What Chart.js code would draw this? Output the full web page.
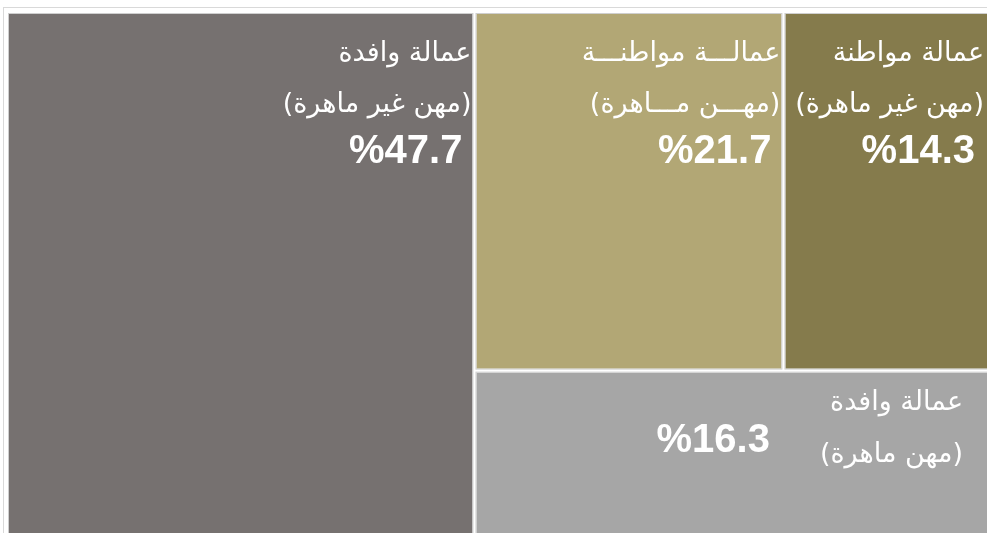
<!DOCTYPE html>
<html lang="ar">
<head>
<meta charset="utf-8">
<script src="https://cdn.jsdelivr.net/npm/chart.js@4.4.1/dist/chart.umd.min.js"></script>
<style>
  html, body { margin: 0; padding: 0; background: #fff; }
  #wrap { width: 987px; height: 533px; position: relative; overflow: hidden; }
</style>
</head>
<body>
<div id="wrap"><canvas id="treemap"></canvas></div>
<script>
// shares of the workforce (%)
const titles = ['عمالة وافدة', 'عمالـــة مواطنـــة', 'عمالة مواطنة', 'عمالة وافدة'];
const subtitles = ['(مهن غير ماهرة)', '(مهـــن مـــاهرة)', '(مهن غير ماهرة)', '(مهن ماهرة)'];
const values = [47.7, 21.7, 14.3, 16.3];
const colors = ['#767170', '#b2a775', '#857b4c', '#a6a6a6'];

// slice layout in data units (0..100 on both axes):
// first item takes a full-height column, the next two share a top row, the last one fills the bottom
function layout(vals) {
  const total = vals.reduce((a, b) => a + b, 0);
  const w0 = vals[0] / total * 100;
  const rest = vals[1] + vals[2] + vals[3];
  const topH = (vals[1] + vals[2]) / rest * 100;
  const w1 = vals[1] / (vals[1] + vals[2]) * (100 - w0);
  return [
    { x0: 0, x1: w0, y0: 100, y1: 0 },
    { x0: w0, x1: w0 + w1, y0: 100, y1: 100 - topH },
    { x0: w0 + w1, x1: 100, y0: 100, y1: 100 - topH },
    { x0: w0, x1: 100, y0: 100 - topH, y1: 0 }
  ];
}

const arabicFont = '27px "DejaVu Sans", sans-serif';
const pctFont = 'bold 40px "Liberation Sans", Arial, sans-serif';

const boxesPlugin = {
  id: 'treemapBoxes',
  beforeDatasetsDraw(chart) {
    const ctx = chart.ctx;
    const xs = chart.scales.x, ys = chart.scales.y;
    const rects = layout(values);

    // outer frame
    ctx.save();
    ctx.strokeStyle = '#d9d9d9';
    ctx.lineWidth = 1;
    ctx.strokeRect(3.5, 7.5, chart.width + 10, chart.height + 10);
    ctx.restore();

    rects.forEach((r, i) => {
      const left = xs.getPixelForValue(r.x0);
      const top = ys.getPixelForValue(r.y0);
      // boxes on the right / bottom edge run off the picture
      const right = xs.getPixelForValue(r.x1) + (r.x1 >= 100 ? 8 : 0);
      const bottom = ys.getPixelForValue(r.y1) + (r.y1 <= 0 ? 8 : 0);

      ctx.save();
      ctx.fillStyle = colors[i];
      ctx.fillRect(left + 2, top + 2, right - left - 4, bottom - top - 4);
      ctx.strokeStyle = '#cfcfcf';
      ctx.lineWidth = 1;
      ctx.strokeRect(left + 1.5, top + 1.5, right - left - 3, bottom - top - 3);

      ctx.fillStyle = '#ffffff';
      ctx.textBaseline = 'middle';
      const pct = '%' + values[i].toFixed(1);
      const edge = Math.min(right, chart.width);

      if (i < 3) {
        const tx = edge - 3;
        ctx.font = arabicFont;
        ctx.direction = 'rtl';
        ctx.textAlign = 'right';
        ctx.fillText(titles[i], tx, top + 42);
        ctx.fillText(subtitles[i], tx, top + 93);
        ctx.direction = 'ltr';
        ctx.font = pctFont;
        ctx.fillText(pct, edge - 12, top + 140);
      } else {
        const tx = edge - 24;
        ctx.font = arabicFont;
        ctx.direction = 'rtl';
        ctx.textAlign = 'right';
        ctx.fillText(titles[i], tx, top + 32);
        ctx.fillText(subtitles[i], tx, top + 84);
        const textW = Math.max(ctx.measureText(titles[i]).width, ctx.measureText(subtitles[i]).width);
        ctx.direction = 'ltr';
        ctx.font = pctFont;
        ctx.fillText(pct, tx - textW - 50, top + 70);
      }
      ctx.restore();
    });
  }
};

new Chart(document.getElementById('treemap'), {
  type: 'scatter',
  data: {
    datasets: [{ data: [], pointRadius: 0 }]
  },
  options: {
    responsive: true,
    maintainAspectRatio: false,
    animation: false,
    layout: { padding: { left: 7, top: 12, right: 0, bottom: 0 } },
    plugins: { legend: { display: false }, tooltip: { enabled: false } },
    scales: {
      x: { type: 'linear', min: 0, max: 100, display: false },
      y: { type: 'linear', min: 0, max: 100, display: false }
    }
  },
  plugins: [boxesPlugin]
});
</script>
</body>
</html>
